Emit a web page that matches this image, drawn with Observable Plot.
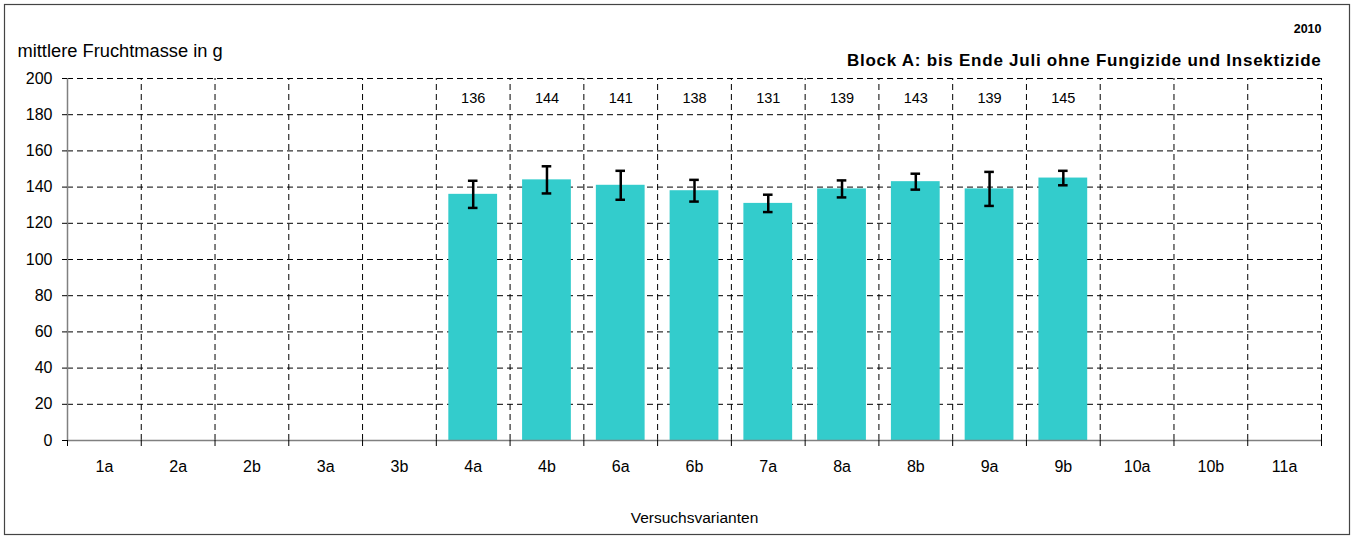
<!DOCTYPE html>
<html>
<head>
<meta charset="utf-8">
<script src="https://cdn.jsdelivr.net/npm/d3@7"></script>
<script src="https://cdn.jsdelivr.net/npm/@observablehq/plot@0.6"></script>
<style>
  html, body { margin: 0; padding: 0; background: #fff; }
</style>
</head>
<body>
<div id="chart"></div>
<script>
const categories = ["1a","2a","2b","3a","3b","4a","4b","6a","6b","7a","8a","8b","9a","9b","10a","10b","11a"];
const values = [null,null,null,null,null,136,144,141,138,131,139,143,139,145,null,null,null];
const errors = [null,null,null,null,null,7.5,7.5,8,6,4.8,4.7,4.4,9.4,4,null,null,null];
const yTicks = [0,20,40,60,80,100,120,140,160,180,200];
const yTitle = "mittlere Fruchtmasse in g";
const xTitle = "Versuchsvarianten";
const title = "Block A: bis Ende Juli ohne Fungizide und Insektizide";
const year = "2010";

const rows = categories.map((c, i) => ({cat: c, i, value: values[i], err: errors[i]}));
const bars = rows.filter(d => d.value != null);
const bounds = d3.range(0, categories.length + 1);
const capHalf = 0.065;

const chart = Plot.plot({
  width: 1353,
  height: 537,
  marginLeft: 67,
  marginRight: 32,
  marginTop: 78,
  marginBottom: 97,
  style: {fontFamily: "'Liberation Sans', Arial, sans-serif", fontSize: "16px", color: "#000", background: "#fff"},
  x: {type: "linear", domain: [0, categories.length], axis: null},
  y: {domain: [0, 200], axis: null},
  marks: [
    // outer border
    Plot.frame({stroke: "#444", strokeWidth: 1.2, insetLeft: -63, insetRight: -28, insetTop: -74, insetBottom: -94}),
    // dashed grid
    Plot.ruleY(yTicks.filter(t => t > 0), {stroke: "#000", strokeDasharray: "6,4", strokeWidth: 1}),
    Plot.ruleX(bounds.filter(b => b > 0), {y1: 0, y2: 200, stroke: "#000", strokeDasharray: "6,4", strokeWidth: 1}),
    // bars
    Plot.rectY(bars, {x1: d => d.i, x2: d => d.i + 1, y1: 0, y2: "value", fill: "#33CCCC", insetLeft: 12.5, insetRight: 12.5}),
    // error bars
    Plot.ruleX(bars, {x: d => d.i + 0.5, y1: d => d.value - d.err, y2: d => d.value + d.err, stroke: "#000", strokeWidth: 2.5}),
    Plot.ruleY(bars, {x1: d => d.i + 0.5 - capHalf, x2: d => d.i + 0.5 + capHalf, y: d => d.value - d.err, stroke: "#000", strokeWidth: 2.5}),
    Plot.ruleY(bars, {x1: d => d.i + 0.5 - capHalf, x2: d => d.i + 0.5 + capHalf, y: d => d.value + d.err, stroke: "#000", strokeWidth: 2.5}),
    // value labels
    Plot.text(bars, {x: d => d.i + 0.5, y: 200, dy: 20, text: d => String(d.value), fontSize: 14.5, fill: "#000"}),
    // axes lines
    Plot.ruleX([0], {y1: 0, y2: 200, stroke: "#808080", strokeWidth: 1.5}),
    Plot.ruleY([0], {x1: 0, x2: categories.length, stroke: "#808080", strokeWidth: 1.5}),
    Plot.axisY({ticks: yTicks, tickSize: 5, tickPadding: 10, fontSize: 16, label: null, stroke: "#000"}),
    Plot.axisX({ticks: bounds, tickSize: 6, tickFormat: () => "", label: null, stroke: "#000"}),
    Plot.axisX({ticks: categories.map((c, i) => i + 0.5), tickSize: 0, tickPadding: 20, tickFormat: v => categories[Math.floor(v)], fontSize: 16, label: null}),
    // titles
    Plot.text([yTitle], {text: d => d, frameAnchor: "top-left", textAnchor: "start", lineAnchor: "middle", dx: -50, dy: -27, fontSize: 18.3}),
    Plot.text([title], {text: d => d, frameAnchor: "top-right", textAnchor: "end", lineAnchor: "middle", dy: -18, fontSize: 17, fontWeight: "bold", className: "main-title"}),
    Plot.text([year], {text: d => d, frameAnchor: "top-right", textAnchor: "end", lineAnchor: "middle", dy: -50, fontSize: 12.5, fontWeight: "bold"}),
    Plot.text([xTitle], {text: d => d, frameAnchor: "bottom", lineAnchor: "middle", dy: 78, fontSize: 15.5})
  ]
});
chart.querySelectorAll("g.main-title text").forEach(t => { t.style.letterSpacing = "0.75px"; });
document.getElementById("chart").appendChild(chart);
</script>
</body>
</html>
